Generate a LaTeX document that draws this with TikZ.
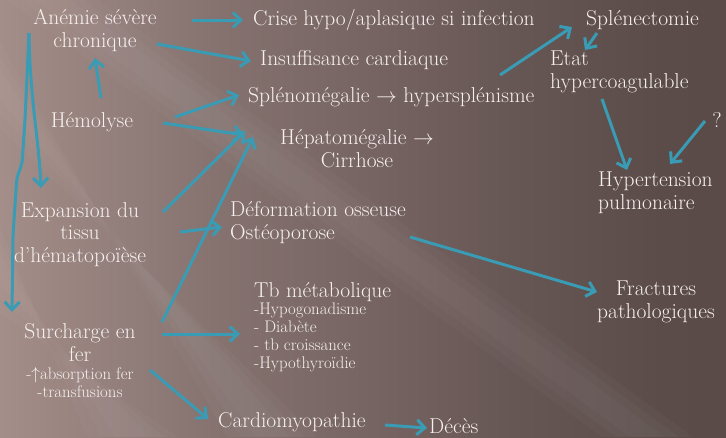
\documentclass[tikz,border=0pt]{standalone}
\usetikzlibrary{arrows.meta}
\definecolor{arr}{HTML}{3A9BB4}
\definecolor{txt}{HTML}{F6F1EF}
\definecolor{bg1}{HTML}{B8A29E}
\definecolor{bg2}{HTML}{AA938F}
\definecolor{bg3}{HTML}{9A8581}
\definecolor{bg4}{HTML}{867370}
\definecolor{bg5}{HTML}{776563}
\definecolor{bg6}{HTML}{665654}
\definecolor{bg7}{HTML}{5B4C49}
\definecolor{bg8}{HTML}{574845}
\pgfdeclarehorizontalshading{bgshade}{100bp}{color(0bp)=(bg1); color(29bp)=(bg1); color(34bp)=(bg2); color(38bp)=(bg3); color(44bp)=(bg4); color(50bp)=(bg5); color(56bp)=(bg6); color(62bp)=(bg7); color(70bp)=(bg8); color(100bp)=(bg8)}
\begin{document}
\begin{tikzpicture}[x=1pt,y=-1pt,
  lbl/.style={text=txt,inner sep=0pt,font=\fontsize{21.5}{22.5}\selectfont},
  sml/.style={text=txt,inner sep=0pt,font=\fontsize{16.8}{17.8}\selectfont},
  streak/.style={fill=white,opacity=0.022},
  link/.style={draw=arr,line width=3pt,-{Straight Barb[length=8pt,width=15pt]}}]
\path[use as bounding box] (0,0) rectangle (726,437);
\begin{scope}
\clip (0,0) rectangle (726,437);
\begin{scope}[rotate around={-20:(363,218)}]
\shade[shading=bgshade] (-137,-232) rectangle (863,668);
\end{scope}
% soft diagonal streaks
\foreach \w in {0,14,28} {
  \fill[streak] (35-\w,0) -- (70+\w,0) -- (665+\w,437) -- (630-\w,437) -- cycle;
  \fill[streak] (0,255-\w) -- (0,285+\w) -- (150+\w,437) -- (115-\w,437) -- cycle;
  \fill[streak] (0,70-\w) -- (0,100+\w) -- (290+\w,437) -- (255-\w,437) -- cycle;
}
\end{scope}

% labels
\node[lbl,align=center,anchor=base] (anemie) at (95,47) {Anémie sévère\\chronique};
\node[lbl,anchor=base] (hemolyse) at (92,127) {Hémolyse};
\node[lbl,align=center,anchor=base] (expansion) at (80,262) {Expansion du\\tissu\\d’hématopoïèse};
\node[lbl,align=center,anchor=base] (surcharge) at (80,361) {Surcharge en\\fer};
\node[sml,align=center,anchor=base] (surchsub) at (80,397) {-$\uparrow$absorption fer\\-transfusions};
\node[lbl,anchor=base west] (crise) at (253,25) {Crise hypo/aplasique si infection};
\node[lbl,anchor=base west] (insuff) at (260,65) {Insuffisance cardiaque};
\node[lbl,anchor=base west] (spleno) at (248,102) {Splénomégalie $\rightarrow$ hypersplénisme};
\node[lbl,align=center,anchor=base] (hepato) at (357,167) {Hépatomégalie $\rightarrow$\\Cirrhose};
\node[lbl,anchor=base west] (splenect) at (586,25) {Splénectomie};
\node[lbl,align=left,anchor=base west] (etat) at (550,88) {Etat\\hypercoagulable};
\node[lbl,anchor=base] (q) at (717,127) {?};
\node[lbl,align=left,anchor=base west] (htp) at (598,209) {Hypertension\\pulmonaire};
\node[lbl,align=left,anchor=base west] (deform) at (230,239) {Déformation osseuse\\Ostéoporose};
\node[lbl,anchor=base west] (tb) at (254,297) {Tb métabolique};
\node[sml,align=left,anchor=base west] (tblist) at (254,368) {-Hypogonadisme\\- Diabète\\- tb croissance\\-Hypothyroïdie};
\node[lbl,align=center,anchor=base] (fract) at (656,318) {Fractures\\pathologiques};
\node[lbl,anchor=base west] (cardio) at (218,427) {Cardiomyopathie};
\node[lbl,anchor=base west] (deces) at (429,433) {Décès};

% connector end points
\coordinate (anemie-o1) at (192,20);  \coordinate (crise-i) at (243,20);
\coordinate (anemie-o2) at (157,44);  \coordinate (insuff-i) at (251,61);
\coordinate (hemo-o1) at (101,98);    \coordinate (anemie-i) at (95,58);
\coordinate (hemo-o2) at (175,117);   \coordinate (spleno-i) at (239,95);
\coordinate (hemo-o3) at (163,123);   \coordinate (hepato-i1) at (244,135);
\coordinate (exp-o1) at (163,212);    \coordinate (hepato-i2) at (245,131);
\coordinate (sur-o1) at (162,322);    \coordinate (hepato-i3) at (253,137);
\coordinate (exp-o2) at (180,232);    \coordinate (deform-i) at (222,227);
\coordinate (sur-o2) at (162,334);    \coordinate (tb-i) at (240,334);
\coordinate (sur-o3) at (150,370);    \coordinate (cardio-i) at (208,419);
\coordinate (cardio-o) at (385,425);  \coordinate (deces-i) at (427,428);
\coordinate (deform-o) at (410,237);  \coordinate (fract-i) at (597,292);
\coordinate (spleno-o) at (500,75);   \coordinate (splenect-i) at (572,27);
\coordinate (splenect-o) at (597,33); \coordinate (etat-i) at (585,50);
\coordinate (etat-o) at (602,99);     \coordinate (htp-i1) at (627,170);
\coordinate (q-o) at (705,121);       \coordinate (htp-i2) at (670,164);
\coordinate (anemie-o3) at (29,33);   \coordinate (exp-i) at (41,188);
\coordinate (sur-i) at (12,312);

% connectors
\draw[link] (anemie-o1) -- (crise-i);
\draw[link] (anemie-o2) -- (insuff-i);
\draw[link] (hemo-o1) -- (anemie-i);
\draw[link] (hemo-o2) -- (spleno-i);
\draw[link] (hemo-o3) -- (hepato-i1);
\draw[link] (exp-o1) -- (hepato-i2);
\draw[link] (sur-o1) -- (hepato-i3);
\draw[link] (exp-o2) -- (deform-i);
\draw[link] (sur-o2) -- (tb-i);
\draw[link] (sur-o3) -- (cardio-i);
\draw[link] (cardio-o) -- (deces-i);
\draw[link] (deform-o) -- (fract-i);
\draw[link] (spleno-o) -- (splenect-i);
\draw[link] (splenect-o) -- (etat-i);
\draw[link] (etat-o) -- (htp-i1);
\draw[link] (q-o) -- (htp-i2);
\draw[link] (anemie-o3) .. controls (30,100) and (39,140) .. (exp-i);
\draw[link,rounded corners=6pt] (anemie-o3) -- (25,120) -- (22,165) -- (17,176) -- (13,235) -- (sur-i);
\end{tikzpicture}
\end{document}
